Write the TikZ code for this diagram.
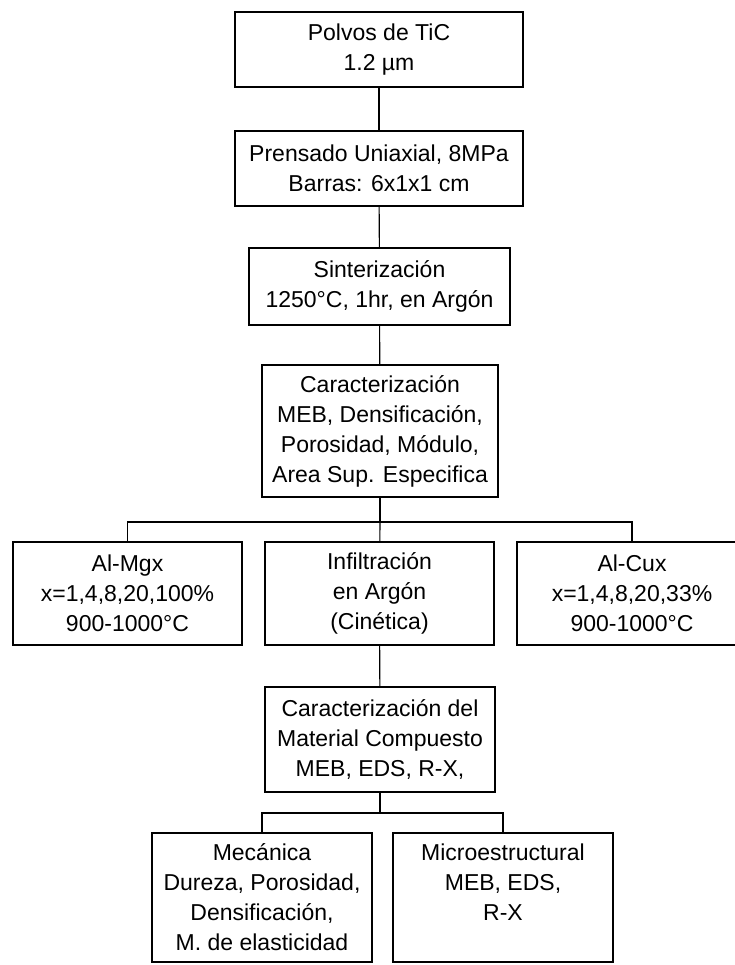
\documentclass[tikz,border=0pt]{standalone}
\usepackage{fontspec}
\setmainfont{Liberation Sans}
\tikzset{
    base/.style={draw, rectangle, line width=1.5pt, inner sep=2pt, align=center, font=\fontsize{23}{30}\selectfont},
    link/.style={line width=1.1pt}
}

\begin{document}
\begin{tikzpicture}[x=1pt, y=-1pt]
\useasboundingbox (0,0) rectangle (735,965);
\clip (0,0) rectangle (735,965);
\node[base, minimum width=288pt, minimum height=75pt] (polvos) at (379,49.5) {Polvos de TiC\\1.2 µm};
\node[base, minimum width=288pt, minimum height=75pt] (prensado) at (379,168.5) {Prensado Uniaxial, 8MPa\\Barras: 6x1x1 cm};
\node[base, minimum width=261pt, minimum height=77pt] (sinter) at (379.5,286.5) {Sinterización\\1250°C, 1hr, en Argón};
\node[base, minimum width=236pt, minimum height=132pt] (carac) at (380,431) {Caracterización\\MEB, Densificación,\\Porosidad, Módulo,\\Area Sup. Especifica};
\coordinate (split1) at (380,522);
\node[base, minimum width=229pt, minimum height=103pt] (almg) at (127.5,593.5) {Al-Mgx\\x=1,4,8,20,100\%\\900-1000°C};
\node[base, minimum width=229pt, minimum height=103pt] (infil) at (379.5,593.5) {Infiltración\\en Argón\\(Cinética)};
\node[base, minimum width=230pt, minimum height=103pt] (alcu) at (632,593.5) {Al-Cux\\x=1,4,8,20,33\%\\900-1000°C};
\node[base, minimum width=230pt, minimum height=105pt] (caracmat) at (380,739.5) {Caracterización del\\Material Compuesto\\MEB, EDS, R-X,};
\coordinate (split2) at (380,813);
\node[base, minimum width=220pt, minimum height=129pt] (mecanica) at (262,897.5) {Mecánica\\Dureza, Porosidad,\\Densificación,\\M. de elasticidad};
\node[base, minimum width=220pt, minimum height=129pt] (micro) at (503,897.5) {Microestructural\\MEB, EDS,\\R-X\\\mbox{}};
\draw[link] (polvos) -- (prensado);
\draw[link] (prensado) -- (sinter);
\draw[link] (sinter) -- (carac);
\draw[link] (carac) -- (split1);
\draw[link] (split1) -| (almg);
\draw[link] (split1) -| (alcu);
\draw[link] (split1) -- (infil);
\draw[link] (infil) -- (caracmat);
\draw[link] (caracmat) -- (split2);
\draw[link] (split2) -| (mecanica);
\draw[link] (split2) -| (micro);
\end{tikzpicture}
\end{document}
